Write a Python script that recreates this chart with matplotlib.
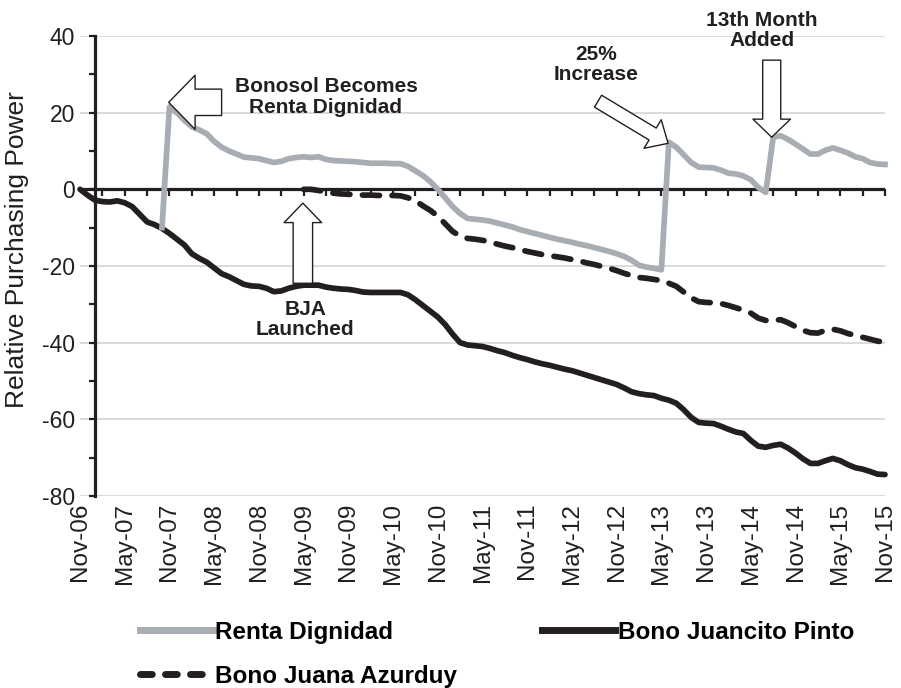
#!/usr/bin/env python3
"""Relative purchasing power of Bolivian cash transfers, Nov-06 to Nov-15."""

import matplotlib

matplotlib.use("Agg")
import matplotlib.pyplot as plt
import numpy as np
from matplotlib.lines import Line2D

plt.rcParams["font.family"] = ["Liberation Sans", "DejaVu Sans"]
plt.rcParams["axes.unicode_minus"] = False

INK = "#231f20"
GREY = "#a7adb3"
GRID = "#d9dbde"

# monthly index: 0 = Nov-06 ... 108 = Nov-15
tick_labels = [
    "Nov-06", "May-07", "Nov-07", "May-08", "Nov-08", "May-09", "Nov-09",
    "May-10", "Nov-10", "May-11", "Nov-11", "May-12", "Nov-12", "May-13",
    "Nov-13", "May-14", "Nov-14", "May-15", "Nov-15",
]

# Bono Juancito Pinto, from Nov-06
juancito = [
    0.0, -1.5, -2.8, -3.2, -3.3, -3.0, -3.5, -4.5, -6.5, -8.5,
    -9.2, -10.2, -11.5, -13.0, -14.5, -16.8, -18.0, -19.0, -20.5, -22.0,
    -22.8, -23.8, -24.8, -25.2, -25.3, -25.8, -26.7, -26.5, -25.8, -25.3,
    -25.0, -25.0, -25.0, -25.5, -25.8, -26.0, -26.1, -26.4, -26.8, -26.9,
    -26.9, -26.9, -26.9, -26.9, -27.5, -28.8, -30.3, -31.8, -33.3, -35.3,
    -37.8, -40.0, -40.6, -40.8, -41.0, -41.5, -42.1, -42.6, -43.3, -43.9,
    -44.4, -45.0, -45.5, -45.9, -46.4, -46.9, -47.3, -47.9, -48.5, -49.1,
    -49.7, -50.3, -50.9, -51.8, -52.8, -53.3, -53.6, -53.8, -54.5, -55.0,
    -55.8, -57.5, -59.5, -60.8, -61.0, -61.1, -61.8, -62.6, -63.3, -63.7,
    -65.5, -67.0, -67.3, -66.8, -66.5, -67.5, -68.8, -70.3, -71.5, -71.5,
    -70.8, -70.2, -70.8, -71.8, -72.6, -73.0, -73.6, -74.3, -74.4,
]

# Renta Dignidad, from Oct-07 (month 11)
renta_start = 11
renta = [
    -10.0, 21.5, 20.0, 18.0, 16.3, 15.5, 14.5, 12.5, 11.0, 10.0,
    9.2, 8.4, 8.2, 8.0, 7.5, 7.0, 7.3, 8.0, 8.3, 8.5,
    8.3, 8.5, 7.8, 7.5, 7.4, 7.3, 7.2, 7.0, 6.8, 6.8,
    6.8, 6.7, 6.7, 6.0, 4.8, 3.6, 2.0, 0.0, -2.2, -4.5,
    -6.3, -7.6, -7.8, -8.0, -8.3, -8.8, -9.3, -9.8, -10.5, -11.0,
    -11.5, -12.0, -12.5, -13.0, -13.4, -13.8, -14.3, -14.7, -15.2, -15.7,
    -16.2, -16.8, -17.5, -18.5, -19.8, -20.3, -20.6, -21.0, 12.3, 11.0,
    9.0, 7.0, 5.8, 5.7, 5.6, 5.0, 4.2, 4.0, 3.5, 2.5,
    0.5, -0.8, 13.6, 14.0, 13.0, 11.8, 10.5, 9.2, 9.2, 10.2,
    10.8, 10.2, 9.5, 8.5, 8.0, 7.0, 6.6, 6.5,
]

# Bono Juana Azurduy, from May-09 (month 30)
azurduy_start = 30
azurduy = [
    0.0, 0.0, -0.3, -0.6, -1.0, -1.2, -1.3, -1.4, -1.5, -1.5,
    -1.6, -1.6, -1.6, -1.7, -2.2, -3.0, -4.3, -5.5, -7.0, -9.0,
    -11.0, -12.2, -12.8, -13.0, -13.3, -13.7, -14.3, -14.8, -15.2, -15.7,
    -16.2, -16.6, -17.0, -17.3, -17.6, -17.9, -18.3, -18.7, -19.2, -19.6,
    -20.1, -20.6, -21.2, -21.9, -22.5, -23.0, -23.2, -23.5, -23.8, -24.5,
    -25.3, -26.8, -28.3, -29.3, -29.5, -29.6, -29.8, -30.3, -30.9, -31.5,
    -32.3, -33.6, -34.2, -34.2, -34.0, -34.8, -35.8, -36.8, -37.4, -37.5,
    -36.8, -36.5, -36.9, -37.6, -38.1, -38.6, -39.1, -39.6, -39.9,
]

# (label, text position, arrow tail, arrow tip, head length, head width, tail width)
events = [
    ("Bonosol Becomes\nRenta Dignidad", (33.0, 24.1), (19.0, 22.7), (11.9, 22.7), 19, 39, 19),
    ("BJA\nLaunched", (30.2, -34.0), (29.9, -24.5), (29.9, -3.6), 14, 27, 14),
    ("25%\nIncrease", (69.2, 32.6), (69.5, 23.0), (78.9, 12.0), 13, 24, 10),
    ("13th Month\nAdded", (91.5, 41.5), (92.8, 33.7), (92.8, 13.6), 13, 27, 13),
]


def main() -> None:
    fig = plt.figure(figsize=(9.01, 6.88), dpi=100)
    ax = fig.add_axes([80 / 901, 1 - 496 / 688, 805 / 901, 460 / 688])

    months = np.arange(len(juancito))
    ax.plot(months, juancito, color=INK, lw=4.1, solid_joinstyle="round",
            solid_capstyle="round", zorder=3, clip_on=False)
    ax.plot(np.arange(len(renta)) + renta_start, renta, color=GREY, lw=4.1,
            solid_joinstyle="round", zorder=3, clip_on=False)
    ax.plot(np.arange(len(azurduy)) + azurduy_start, azurduy, color=INK, lw=4.1,
            dashes=(3.0, 2.2), dash_capstyle="round", zorder=3, clip_on=False)

    ax.set_xlim(0, 108)
    ax.set_ylim(-80, 40)

    # horizontal axis runs along zero, with quarterly tick marks
    ax.axhline(0, color=INK, lw=2.3, zorder=2.5)
    quarters = np.arange(3, 109, 3)
    ax.plot(quarters, np.zeros(len(quarters)), ls="none", marker=3, ms=5,
            mew=1.6, color=INK, zorder=2.5, clip_on=False)

    ax.set_xticks(np.arange(0, 109, 6))
    ax.set_xticklabels(tick_labels, rotation=90, fontsize=17.5, color=INK)
    ax.tick_params(axis="x", length=0, pad=5)

    ax.set_yticks(np.arange(-80, 41, 20))
    ax.set_yticks(np.arange(-70, 40, 20), minor=True)
    ax.tick_params(axis="y", which="both", direction="out", length=4.5,
                   width=1.6, color=INK, labelsize=16.5, labelcolor=INK, pad=10)
    ax.yaxis.grid(True, color=GRID, lw=1.4)
    ax.set_axisbelow(True)

    for side in ("top", "right", "bottom"):
        ax.spines[side].set_visible(False)
    ax.spines["left"].set_position(("data", 2))
    ax.spines["left"].set_linewidth(2.3)
    ax.spines["left"].set_color(INK)

    fig.text(17 / 901, 1 - 250 / 688, "Relative Purchasing Power", rotation=90,
             ha="center", va="center", fontsize=19, color=INK)

    for label, text_xy, tail, tip, head_len, head_w, tail_w in events:
        ax.annotate(
            "", xy=tip, xytext=tail,
            arrowprops=dict(
                arrowstyle=f"simple,head_length={head_len},head_width={head_w},tail_width={tail_w}",
                fc="white", ec=INK, lw=1.0, shrinkA=0, shrinkB=0, mutation_scale=1,
            ),
            zorder=4,
        )
        ax.text(*text_xy, label, ha="center", va="center", fontsize=15,
                fontweight="bold", color=INK, linespacing=1.1, zorder=5)

    handles = [
        Line2D([], [], color=GREY, lw=5),
        Line2D([], [], color=INK, lw=5, dashes=(1.7, 1.9), dash_capstyle="round"),
        Line2D([], [], color=INK, lw=5),
    ]
    labels = ["Renta Dignidad", "Bono Juana Azurduy", "Bono Juancito Pinto"]
    fig.legend(handles, labels, loc="upper left", bbox_to_anchor=(140 / 901, 1 - 621 / 688),
               ncol=2, frameon=False, borderpad=0, borderaxespad=0,
               handlelength=3.0, handletextpad=0.1, columnspacing=3.5, labelspacing=0.85,
               prop={"weight": "bold", "size": 17.5})

    fig.savefig("out.png", dpi=100)
    plt.close(fig)


if __name__ == "__main__":
    main()
